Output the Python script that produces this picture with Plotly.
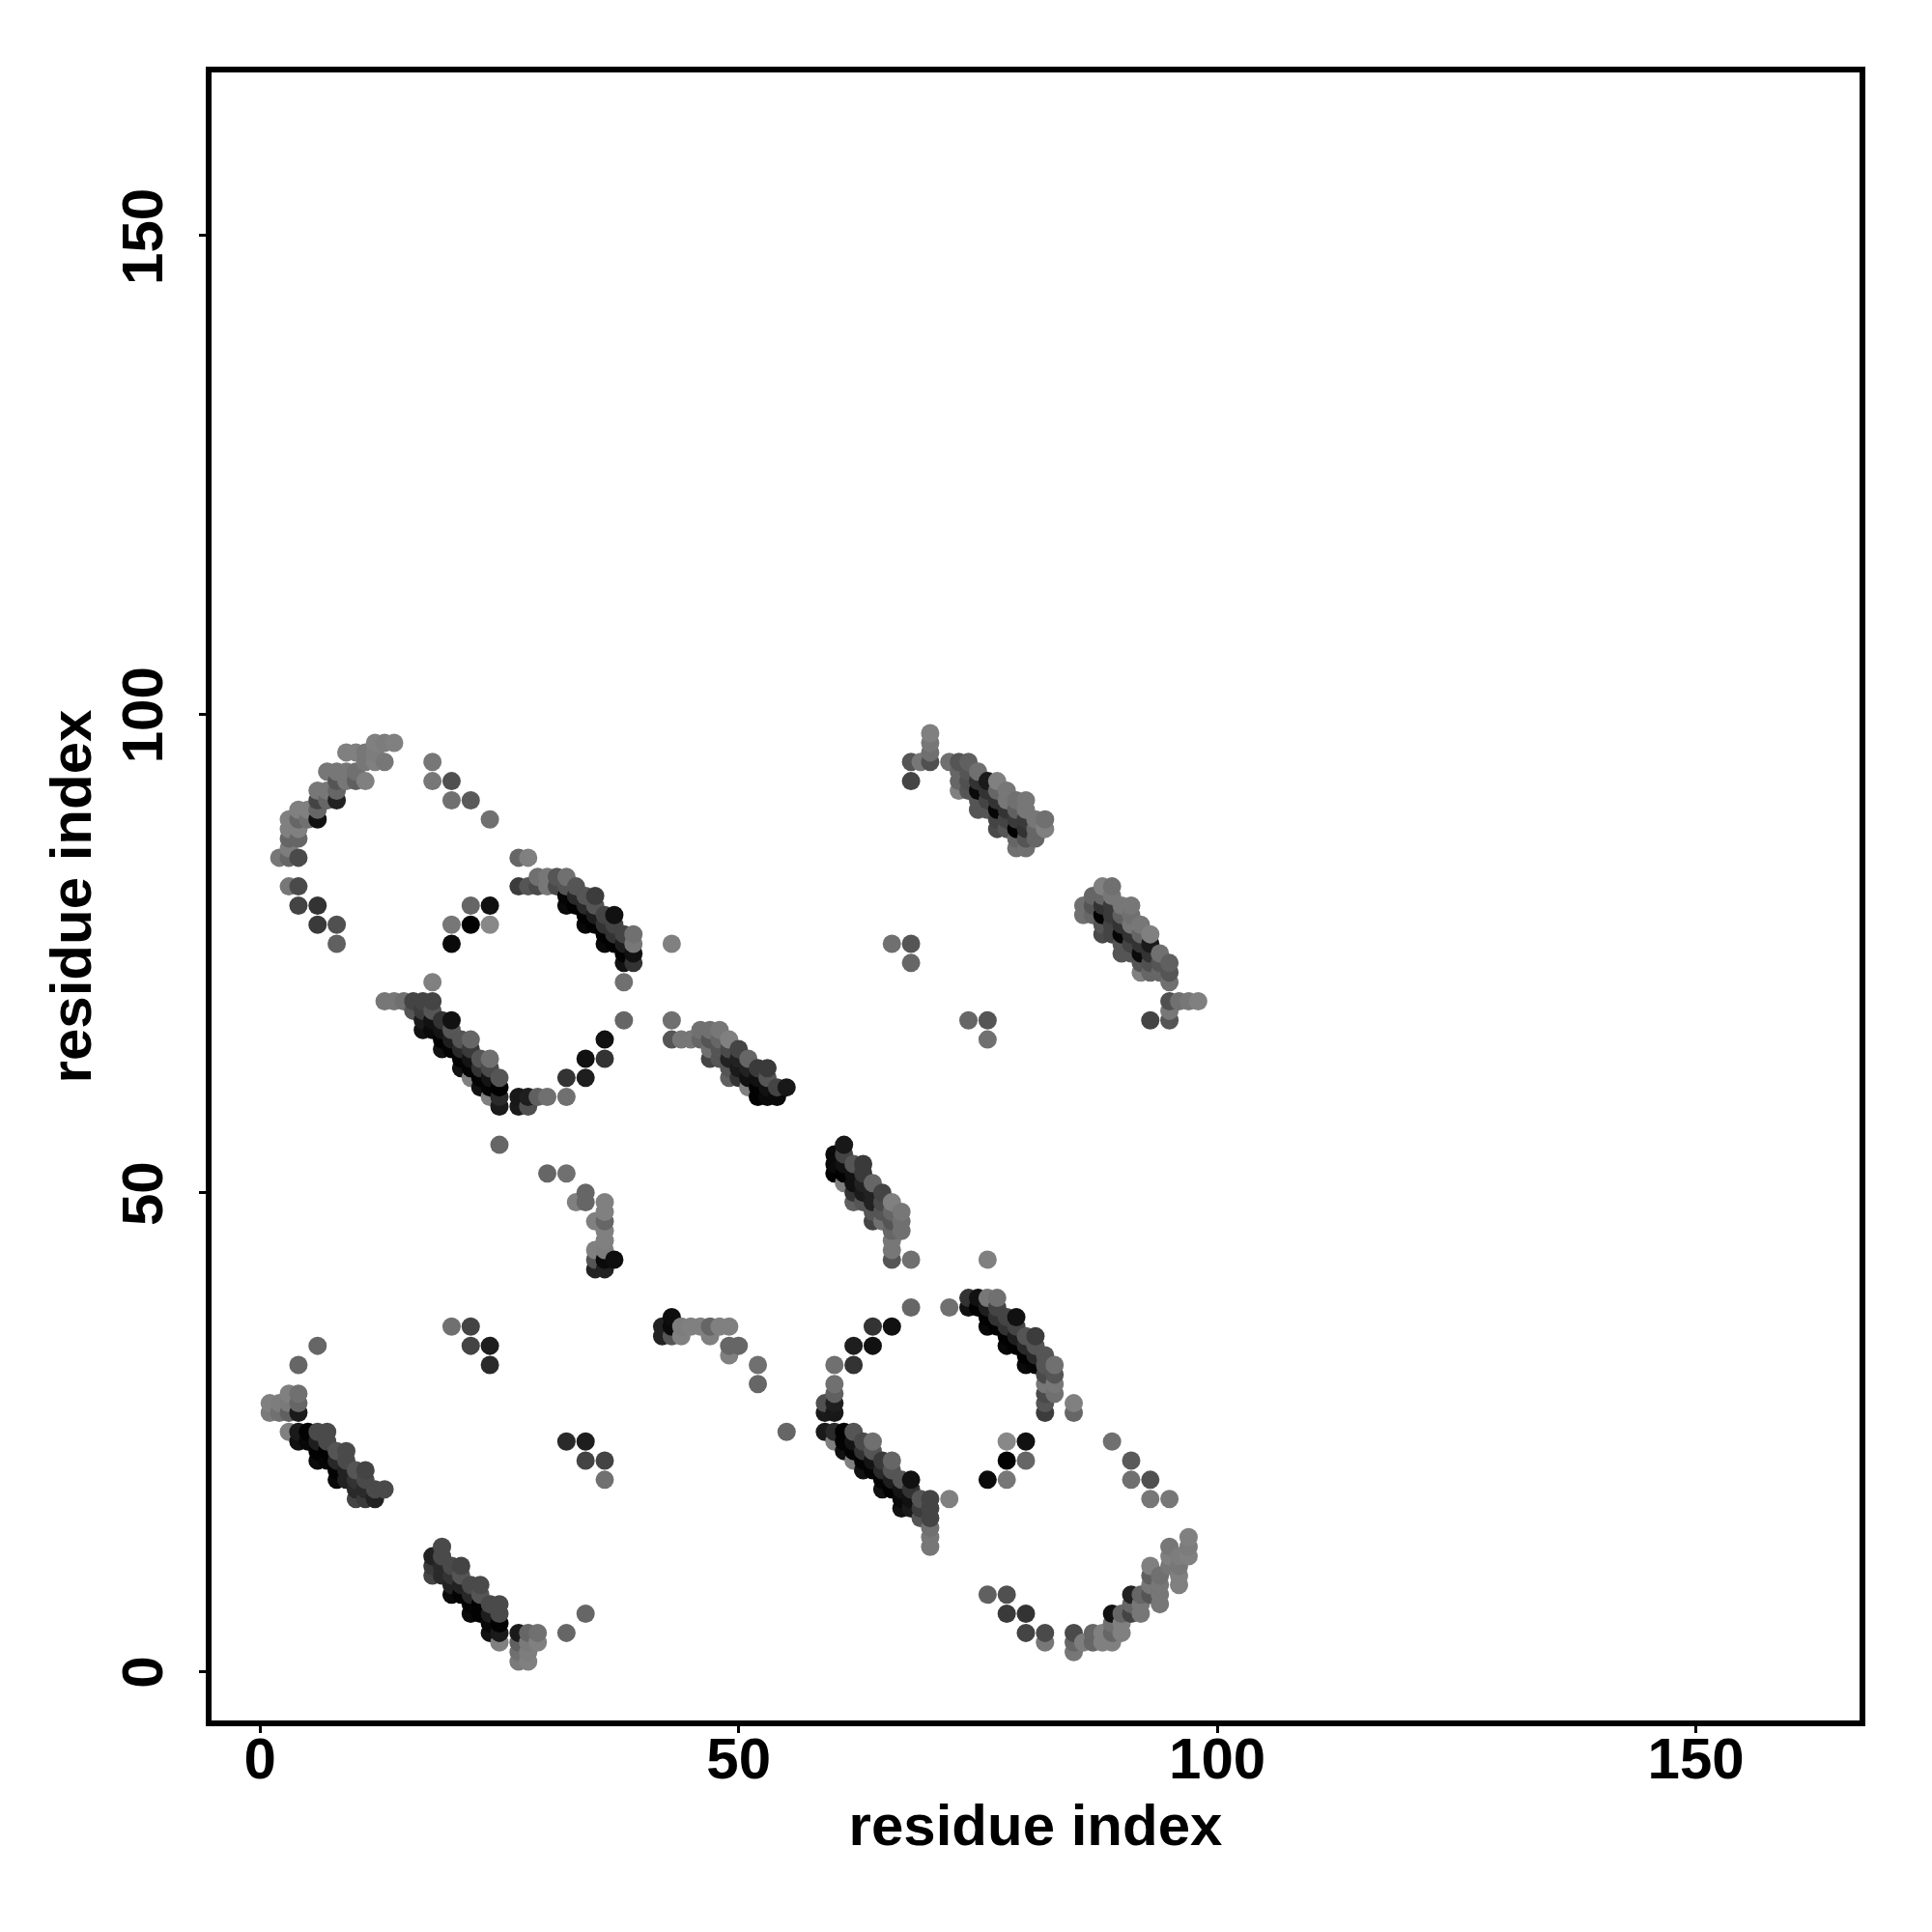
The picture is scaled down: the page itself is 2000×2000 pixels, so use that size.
import numpy as np
import plotly.graph_objects as go

# contacts with residue_i < residue_j; each is also drawn mirrored
contact_triples = """
6,34,102 4,32,102 20,36,112 22,36,68 22,34,68 24,34,30 24,32,42
1,28,128 1,27,122 2,28,125 2,27,112 3,29,128 3,28,122 3,27,96 4,29,112 4,28,102 4,27,26
3,25,128 4,25,26 4,24,17 5,25,2 5,24,8 6,25,74 7,25,74 6,24,30 7,24,74 6,23,2 6,22,10 7,23,2 7,22,5
8,23,85 9,23,74 8,22,40 9,22,74 8,21,4 8,20,10 9,21,34 9,20,34 10,21,85 11,21,68 10,20,51 11,20,74
10,19,42 10,18,68 11,19,42 11,18,58 12,19,74 13,19,74 12,18,34
8,76,96 6,78,58 8,78,80 4,80,68 6,80,51 3,82,119 4,82,74 2,85,119 3,85,102 4,85,74 3,86,125 3,87,102 4,87,102
3,88,128 4,88,128 3,89,128 4,89,102 4,90,128 5,90,128 5,89,112 6,89,17 6,90,102 6,91,68 6,92,119 7,92,119 7,91,102
8,91,34 8,92,102 8,93,85 7,94,119 8,94,119 9,94,119 9,93,119 10,93,96 11,93,128 10,94,112 11,95,119
9,96,128 10,96,128 11,96,119 12,96,125 12,95,128 13,95,119 12,97,128 13,97,124 14,97,128
18,95,119 18,93,119 20,93,80 20,91,112 22,91,90 24,89,112
27,85,102 28,85,128 27,82,60 28,82,85 29,82,74 30,82,119 31,82,74 29,83,112 30,83,119 31,83,85 32,83,112
32,82,85 32,81,5 32,80,10 33,82,85 33,81,42 33,80,2 34,81,85 34,80,42 34,79,2 34,78,8 35,81,60 35,80,85 35,79,30 35,78,2
36,79,68 36,78,51 36,77,2 36,76,8 37,79,17 37,78,68 37,77,51 37,76,2 38,77,68 38,76,30 38,75,2 38,74,17
39,77,112 39,76,119 39,75,17 39,74,51 38,72,112 38,68,102 36,66,17 34,64,17 36,64,51 32,62,51 34,62,30
32,60,112 30,60,112 29,60,96 28,60,30 27,60,24 28,59,80 27,59,26
18,72,128 13,70,119 14,70,119 15,70,112 16,70,68 17,70,68 18,70,68 16,69,85 17,69,60 18,69,85
17,68,26 18,68,17 19,68,51 20,68,17 17,67,17 18,67,10 19,67,20 20,67,85 19,66,2 20,66,30 21,66,85 22,66,102
19,65,17 20,65,4 21,65,42 22,65,58 21,64,4 22,64,20 23,64,85 24,64,112 21,63,17 22,63,4 23,63,51 24,63,74
23,62,4 24,62,20 25,62,85 22,62,128 23,61,17 24,61,4 25,61,2 24,60,128 25,60,42 25,59,26
22,80,102 24,80,17 20,78,119 22,78,2 24,78,136 20,76,10
25,55,102 30,52,102 32,52,112 34,50,102 33,49,128 34,49,102 36,49,128 36,48,128 35,47,128 36,47,102 36,46,128
36,45,128 36,44,125 35,44,128 35,43,85 36,43,10 37,43,14 35,42,34 36,42,34
43,76,128 43,68,112 43,66,85 44,66,119 45,66,119 46,67,112 47,67,112 48,67,119 46,66,102 47,66,85 48,66,102 49,66,128
47,65,112 48,65,85 49,65,74 50,65,68 47,64,68 48,64,85 49,64,34 50,64,34 51,64,102 49,63,85 50,63,26 51,63,34 52,63,58 53,63,58
49,62,96 50,62,51 51,62,17 52,62,17 53,62,85 51,61,128 52,61,2 53,61,17 54,61,68 55,61,24 52,60,2 53,60,10 54,60,10
66,76,112 68,76,85 68,74,102
68,93,68 68,95,85 69,95,119 70,95,80 70,96,112 70,97,119 70,98,128 72,95,112 73,95,85 74,95,96 73,94,102 74,94,85 75,94,112
73,93,102 74,93,80 75,93,51 76,93,26 73,92,128 74,92,85 75,92,10 76,92,51 77,93,128 77,92,102 78,92,119
75,91,85 76,91,68 77,91,51 78,91,119 79,91,112 80,91,119 75,90,85 76,90,85 77,90,6 78,90,51 79,90,96 80,90,119
77,89,68 78,89,68 79,89,58 80,89,58 81,89,119 82,89,112 77,88,74 78,88,85 79,88,2 80,88,51 81,88,102 82,88,128
79,87,102 80,87,85 81,87,102 79,86,112 80,86,112
"""
rows = np.array([t.split(",") for t in contact_triples.split()], dtype=int)
residue_i, residue_j, gray_level = rows[:, 0], rows[:, 1], rows[:, 2]

tick_values = [0, 50, 100, 150]
axis_label = "residue index"

xs = np.concatenate([residue_i, residue_j])
ys = np.concatenate([residue_j, residue_i])
gs = np.concatenate([gray_level, gray_level])
order = np.lexsort((ys, xs))
xs, ys, gs = xs[order], ys[order], gs[order]

FONT = "Liberation Sans"
fig = go.Figure(go.Scatter(
    x=xs.tolist(), y=ys.tolist(), mode="markers",
    marker=dict(size=19, color=[f"rgb({g},{g},{g})" for g in gs], line=dict(width=0)),
    hoverinfo="skip", showlegend=False, cliponaxis=True,
))
axis = dict(
    tickmode="array", tickvals=tick_values, ticktext=[str(v) for v in tick_values],
    ticks="outside", ticklen=9, tickwidth=3, tickcolor="black",
    showgrid=False, zeroline=False, showline=False,
)
tick_font = dict(family=FONT, size=60, color="black", weight="bold")
title_font = dict(family=FONT, size=60, color="black", weight="bold")
fig.update_layout(
    width=2000, height=2000, autosize=False, paper_bgcolor="white", plot_bgcolor="white",
    margin=dict(l=208, r=80, t=64, b=224, pad=0),
    xaxis=dict(axis, range=[-5.38, 167.4], tickangle=0, tickfont=tick_font, ticklabelstandoff=-25,
               title=dict(text=axis_label, font=title_font, standoff=14)),
    yaxis=dict(axis, range=[-5.45, 167.35], tickangle=-90, tickfont=tick_font, ticklabelstandoff=14,
               ticklabelshift=10,
               title=dict(text=axis_label, font=title_font, standoff=0)),
    shapes=[dict(type="rect", xref="paper", yref="paper", x0=0, x1=1, y0=0, y1=1,
                 line=dict(color="black", width=6), layer="above")],
)
fig.write_html("out.html")
